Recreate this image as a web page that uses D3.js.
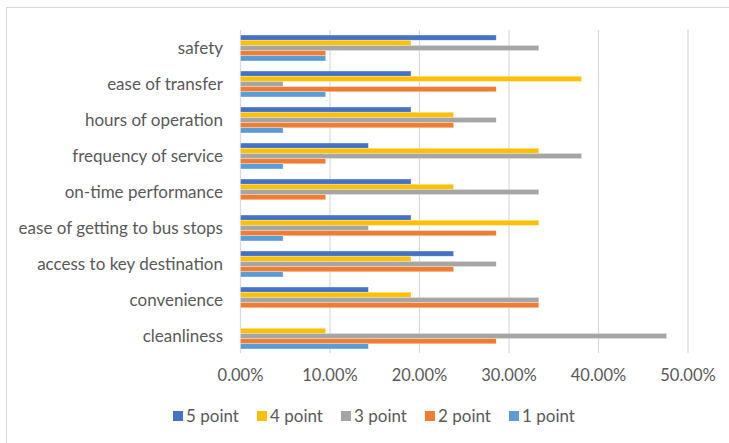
<!DOCTYPE html>
<html><head><meta charset="utf-8">
<script src="https://cdn.jsdelivr.net/npm/d3@7"></script>
<style>body{margin:0;background:#fff;}svg{display:block;}</style>
</head><body>
<svg id="c" width="729" height="443"></svg>
<script>
const categories = ["safety","ease of transfer","hours of operation","frequency of service","on-time performance","ease of getting to bus stops","access to key destination","convenience","cleanliness"];
const seriesNames = ["5 point","4 point","3 point","2 point","1 point"];
const colors = ["#4472C4","#FFC000","#A5A5A5","#ED7D31","#5B9BD5"];
const point5 = [28.57,19.05,19.05,14.29,19.05,19.05,23.81,14.29,0];
const point4 = [19.05,38.10,23.81,33.33,23.81,33.33,19.05,19.05,9.52];
const point3 = [33.33,4.76,28.57,38.10,33.33,14.29,28.57,33.33,47.62];
const point2 = [9.52,28.57,23.81,9.52,9.52,28.57,23.81,33.33,28.57];
const point1 = [9.52,9.52,4.76,4.76,0,4.76,4.76,0,14.29];
const xTicks = [0,10,20,30,40,50];

const series = [point5,point4,point3,point2,point1];
const svg = d3.select("#c");
const font = "Lato, 'Open Sans', sans-serif";

svg.append("rect").attr("x",6.5).attr("y",7.5).attr("width",740).attr("height",460)
  .attr("fill","#fff").attr("stroke","#d9d9d9").attr("stroke-width",1);

const x = d3.scaleLinear().domain([0,50]).range([240.5,688]);
const y = d3.scaleBand().domain(categories).range([30,354]).paddingInner(0.28).paddingOuter(0.14);
const ys = d3.scaleBand().domain(seriesNames).range([0,y.bandwidth()]);

svg.append("g").selectAll("line").data(xTicks).join("line")
  .attr("x1",d=>x(d)).attr("x2",d=>x(d)).attr("y1",30).attr("y2",353)
  .attr("stroke","#d9d9d9").attr("stroke-width",1.2);

const g = svg.append("g");
categories.forEach((c,i)=>{
  series.forEach((s,j)=>{
    if (s[i] <= 0) return;
    g.append("rect").attr("x",x(0)).attr("y",y(c)+ys(seriesNames[j]))
      .attr("width",x(s[i])-x(0)).attr("height",ys.bandwidth())
      .attr("fill",colors[j]).attr("stroke","#fff").attr("stroke-opacity",0.5).attr("stroke-width",0.6);
  });
});

svg.append("g").selectAll("text").data(categories).join("text")
  .attr("x",223).attr("y",d=>y(d)+y.bandwidth()/2).attr("dy","0.35em")
  .attr("text-anchor","end").attr("font-family",font).attr("font-size",17).attr("fill","#595959")
  .text(d=>d);

svg.append("g").selectAll("text").data(xTicks).join("text")
  .attr("x",d=>x(d)).attr("y",381).attr("text-anchor","middle")
  .attr("font-family",font).attr("font-size",16.5).attr("fill","#595959")
  .text(d=>d3.format(".2f")(d)+"%");

const lg = svg.append("g");
seriesNames.forEach((n,j)=>{
  const lx = 173 + j*84;
  lg.append("rect").attr("x",lx).attr("y",411).attr("width",10).attr("height",10).attr("fill",colors[j]);
  lg.append("text").attr("x",lx+13).attr("y",416).attr("dy","0.35em")
    .attr("font-family",font).attr("font-size",17).attr("fill","#595959").text(n);
});
</script>
</body></html>
